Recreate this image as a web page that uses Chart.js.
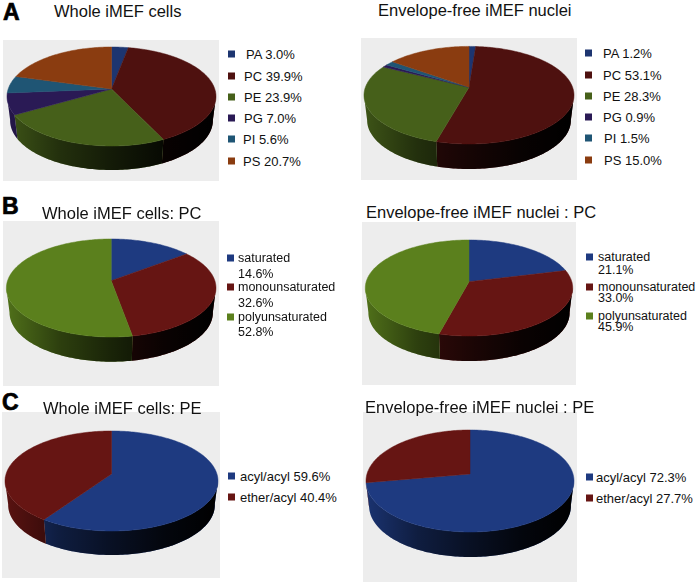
<!DOCTYPE html>
<html>
<head>
<meta charset="utf-8">
<title>iMEF lipid composition</title>
<script src="https://cdn.jsdelivr.net/npm/chart.js@4"></script>
<style>
  html, body { margin: 0; padding: 0; background: #fff; }
  #page { position: relative; width: 697px; height: 584px; overflow: hidden;
          font-family: "Liberation Sans", Arial, sans-serif; color: #111; }
  #page canvas { position: absolute; background: #ededed; }
  .title, .letter, .legendText, .legendWrap { position: absolute; white-space: nowrap; line-height: 1; transform: translateY(-50%); }
  .title { font-size: 16.5px; }
  .letter { font-size: 23px; font-weight: bold; -webkit-text-stroke: 0.7px #000; color: #000; }
  .legendText { font-size: 13px; }
  .legendWrap { font-size: 12.5px; }
  .swatch { position: absolute; width: 7px; height: 7px; transform: translateY(-50%); }
</style>
</head>
<body>
<div id="page"></div>
<script>
// values
const lipidClasses = ['PA', 'PC', 'PE', 'PG', 'PI', 'PS']
const wholeCellLipids = [3.0, 39.9, 23.9, 7.0, 5.6, 20.7]
const nucleiLipids = [1.2, 53.1, 28.3, 0.9, 1.5, 15.0]

const saturationClasses = ['saturated', 'monounsaturated', 'polyunsaturated']
const wholeCellPC = [14.6, 32.6, 52.8]
const nucleiPC = [21.1, 33.0, 45.9]

const linkageClasses = ['acyl/acyl', 'ether/acyl']
const wholeCellPE = [59.6, 40.4]
const nucleiPE = [72.3, 27.7]

const lipidColors = ['#1d3570', '#4e110f', '#46601a', '#2a1a55', '#1f5574', '#8a3c10']
const brightColors = ['#1e3a80', '#661513', '#5b801d']

const letters = [['A', 3, 12], ['B', 2, 206], ['C', 2, 402]]

// box = grey panel, pie = cx, cy, rx, ry, apex y, depth (all page px)
const panels = [
  { title: 'Whole iMEF cells', titleAt: [54, 11], labels: lipidClasses, values: wholeCellLipids, colors: lipidColors,
    box: [3, 40, 216, 141], pie: [111.5, 96.5, 104.5, 49.5, 89, 24],
    swatchX: 228, textX: [246, 244, 244, 244, 243, 243], rowY: [54, 76, 97, 118, 139, 161] },
  { title: 'Envelope-free iMEF nuclei', titleAt: [378, 10], labels: lipidClasses, values: nucleiLipids, colors: lipidColors,
    box: [361, 38, 216, 142], pie: [469, 95.2, 105, 48.8, 87.3, 25],
    swatchX: 585, textX: [603, 603, 603, 603, 604, 604], rowY: [53, 75, 96, 117, 138, 160] },
  { title: 'Whole iMEF cells: PC', titleAt: [42, 213], labels: saturationClasses, values: wholeCellPC, colors: brightColors,
    box: [3, 221, 216, 165], pie: [111.2, 288, 104.8, 49, 280.7, 24.7],
    swatchX: 227, textX: [238, 238, 238], rowY: [258, 287, 317], wrapY: [274, 303, 332] },
  { title: 'Envelope-free iMEF nuclei : PC', titleAt: [366, 212], labels: saturationClasses, values: nucleiPC, colors: brightColors,
    box: [362, 222, 214, 163], pie: [469, 288, 103.7, 48, 281.7, 25],
    swatchX: 586, textX: [598, 598, 598], rowY: [257, 287, 316], wrapY: [270, 298, 327] },
  { title: 'Whole iMEF cells: PE', titleAt: [43, 408], labels: linkageClasses, values: wholeCellPE, colors: brightColors,
    box: [2, 412, 218, 166], pie: [111.5, 481, 106.5, 50, 474, 24],
    swatchX: 228, textX: [240, 240], rowY: [476, 497] },
  { title: 'Envelope-free iMEF nuclei : PE', titleAt: [365, 407], labels: linkageClasses, values: nucleiPE, colors: brightColors,
    box: [363, 412, 214, 170], pie: [470, 481, 104, 51, 474, 25],
    swatchX: 586, textX: [596, 596], rowY: [477, 498] }
]

// the charts are perspective pies, so the arcs from chart.js get projected on to
// a tilted disc here instead of being drawn as flat circles
const tiltedPie = {
  id: 'tiltedPie',
  beforeDatasetDraw(chart, args) {
    const { ctx } = chart
    const panel = chart.options.plugins.tiltedPie.panel
    const [px, py] = panel.box
    const [cx, cy, rx, ry, apexY, depth] = panel.pie
    const tilt = (cy - apexY) / ry
    const shrink = 0.97

    const rimPoints = (arc) => {
      const steps = Math.max(4, Math.ceil((arc.endAngle - arc.startAngle) / 0.02))
      const pts = []
      for (let i = 0; i <= steps; i++) {
        const t = arc.startAngle + (arc.endAngle - arc.startAngle) * i / steps
        const x = Math.cos(t)
        const y = Math.sin(t)
        const d = 1 - tilt * y
        pts.push([x * Math.sqrt(1 - tilt * tilt) / d, (y - tilt) / d])
      }
      return pts
    }

    ctx.save()
    ctx.translate(-px, -py)

    // side wall first, it gets darker towards the right
    const shade = ctx.createLinearGradient(cx - rx, 0, cx + rx, 0)
    shade.addColorStop(0, 'rgba(0,0,0,0.12)')
    shade.addColorStop(0.25, 'rgba(0,0,0,0.5)')
    shade.addColorStop(0.5, 'rgba(0,0,0,0.72)')
    shade.addColorStop(0.75, 'rgba(0,0,0,0.9)')
    shade.addColorStop(1, 'rgba(0,0,0,1)')

    args.meta.data.forEach((arc, i) => {
      const front = rimPoints(arc).filter((p) => p[1] > -0.02)
      if (front.length < 2) return
      ctx.beginPath()
      front.forEach((p, j) => {
        const sx = cx + p[0] * rx
        const sy = cy + p[1] * ry
        if (j === 0) ctx.moveTo(sx, sy)
        else ctx.lineTo(sx, sy)
      })
      front.slice().reverse().forEach((p) => {
        ctx.lineTo(cx + p[0] * rx * shrink, cy + p[1] * ry + depth)
      })
      ctx.closePath()
      ctx.fillStyle = panel.colors[i]
      ctx.fill()
      ctx.fillStyle = shade
      ctx.fill()
    })

    // top face
    args.meta.data.forEach((arc, i) => {
      ctx.beginPath()
      ctx.moveTo(cx, apexY)
      rimPoints(arc).forEach((p) => ctx.lineTo(cx + p[0] * rx, cy + p[1] * ry))
      ctx.closePath()
      ctx.fillStyle = panel.colors[i]
      ctx.strokeStyle = panel.colors[i]
      ctx.lineWidth = 0.5
      ctx.fill()
      ctx.stroke()
    })

    ctx.restore()
    return false
  }
}

const page = document.getElementById('page')

function addText(cls, text, x, y) {
  const el = document.createElement('div')
  el.className = cls
  el.textContent = text
  el.style.left = x + 'px'
  el.style.top = y + 'px'
  page.appendChild(el)
}

letters.forEach(([text, x, y]) => addText('letter', text, x, y))

panels.forEach((panel) => {
  const [x, y, w, h] = panel.box
  const canvas = document.createElement('canvas')
  canvas.width = w
  canvas.height = h
  canvas.style.left = x + 'px'
  canvas.style.top = y + 'px'
  page.appendChild(canvas)

  new Chart(canvas, {
    type: 'pie',
    plugins: [tiltedPie],
    data: {
      labels: panel.labels,
      datasets: [{ data: panel.values, backgroundColor: panel.colors, borderWidth: 0 }]
    },
    options: {
      responsive: false,
      animation: false,
      plugins: { legend: { display: false }, tooltip: { enabled: false }, tiltedPie: { panel: panel } }
    }
  })

  addText('title', panel.title, panel.titleAt[0], panel.titleAt[1])

  panel.labels.forEach((label, i) => {
    const swatch = document.createElement('div')
    swatch.className = 'swatch'
    swatch.style.left = panel.swatchX + 'px'
    swatch.style.top = panel.rowY[i] + 'px'
    swatch.style.background = panel.colors[i]
    page.appendChild(swatch)

    const percent = panel.values[i].toFixed(1) + '%'
    if (panel.wrapY) {
      addText('legendWrap', label, panel.textX[i], panel.rowY[i])
      addText('legendWrap', percent, panel.textX[i], panel.wrapY[i])
    } else {
      addText('legendText', label + ' ' + percent, panel.textX[i], panel.rowY[i])
    }
  })
})
</script>
</body>
</html>
